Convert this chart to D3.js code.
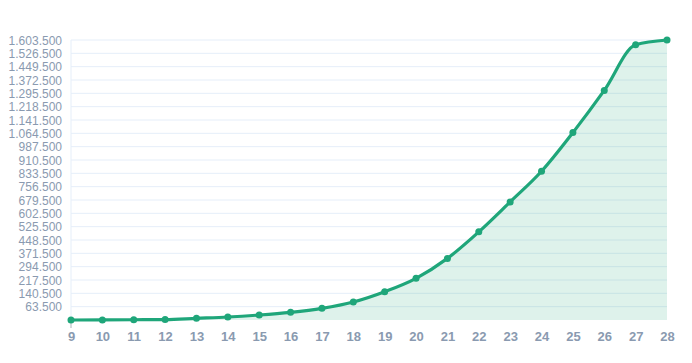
<!DOCTYPE html>
<html>
<head>
<meta charset="utf-8">
<script src="https://cdn.jsdelivr.net/npm/d3@7"></script>
<style>
  body { margin: 0; background: #fff; }
  svg { display: block; font-family: "Open Sans", sans-serif; }
  .tick text { fill: #8a9ab0; }
</style>
</head>
<body>
<svg></svg>
<script>
var days = [9, 10, 11, 12, 13, 14, 15, 16, 17, 18, 19, 20, 21, 22, 23, 24, 25, 26, 27, 28];
var totals = [-13500, -13000, -12000, -11000, -3700, 3800, 15300, 30900, 53900, 90300,
              149600, 226900, 342200, 495500, 668500, 845400, 1068600, 1312400, 1575800, 1603500];
var yTicks = [63500, 140500, 217500, 294500, 371500, 448500, 525500, 602500, 679500, 756500,
              833500, 910500, 987500, 1064500, 1141500, 1218500, 1295500, 1372500, 1449500, 1526500, 1603500];
var yMin = -13500;

var width = 692, height = 363;
var svg = d3.select("svg").attr("width", width).attr("height", height);
var margin = {top: 40, right: 25, bottom: 43, left: 71};

var x = d3.scaleLinear()
    .domain([d3.min(days), d3.max(days)])
    .range([margin.left, width - margin.right]);
var y = d3.scaleLinear()
    .domain([yMin, d3.max(yTicks)])
    .range([height - margin.bottom, margin.top]);

var fmt = function (v) { return d3.format(",")(v).replace(/,/g, "."); };

// grid lines
svg.append("g").selectAll("line")
    .data(yTicks).enter()
    .append("line")
    .attr("x1", x.range()[0]).attr("x2", x.range()[1])
    .attr("y1", function (d) { return y(d); })
    .attr("y2", function (d) { return y(d); })
    .attr("stroke", "#e5eef9").attr("stroke-width", 1);

svg.append("line")
    .attr("x1", x(9)).attr("x2", x(9))
    .attr("y1", y.range()[1]).attr("y2", y.range()[0])
    .attr("stroke", "#e5eef9");

// y axis labels
var yAxis = svg.append("g")
    .attr("transform", "translate(" + (margin.left - 9) + ",0)")
    .call(d3.axisLeft(y).tickValues(yTicks).tickFormat(fmt).tickSize(0).tickPadding(0));
yAxis.select(".domain").remove();
yAxis.selectAll("text").attr("dy", "0.35em")
    .style("font-size", "12px").style("font-weight", "500");

// x axis labels
var xAxis = svg.append("g")
    .attr("transform", "translate(0," + (height - margin.bottom) + ")")
    .call(d3.axisBottom(x).tickValues(days).tickFormat(d3.format("d")).tickSize(0).tickPadding(12));
xAxis.select(".domain").remove();
xAxis.selectAll("text").style("font-size", "13px").style("font-weight", "600");

svg.append("line")
    .attr("x1", x(9)).attr("x2", x(9))
    .attr("y1", y(yMin) + 2).attr("y2", y(yMin) + 8)
    .attr("stroke", "#c8ccd2").attr("stroke-width", 1.5);

var data = days.map(function (d, i) { return {day: d, total: totals[i]}; });

var area = d3.area()
    .x(function (d) { return x(d.day); })
    .y0(y(yMin))
    .y1(function (d) { return y(d.total); })
    .curve(d3.curveMonotoneX);
svg.append("path")
    .attr("d", area(data))
    .attr("fill", "#1fa67a")
    .attr("fill-opacity", 0.15);

var line = d3.line()
    .x(function (d) { return x(d.day); })
    .y(function (d) { return y(d.total); })
    .curve(d3.curveMonotoneX);
svg.append("path")
    .attr("d", line(data))
    .attr("fill", "none")
    .attr("stroke", "#1fa67a")
    .attr("stroke-width", 3.2)
    .attr("stroke-linejoin", "round");

svg.append("g").selectAll("circle")
    .data(data).enter()
    .append("circle")
    .attr("cx", function (d) { return x(d.day); })
    .attr("cy", function (d) { return y(d.total); })
    .attr("r", 3.5)
    .attr("fill", "#1fa67a");
</script>
</body>
</html>
